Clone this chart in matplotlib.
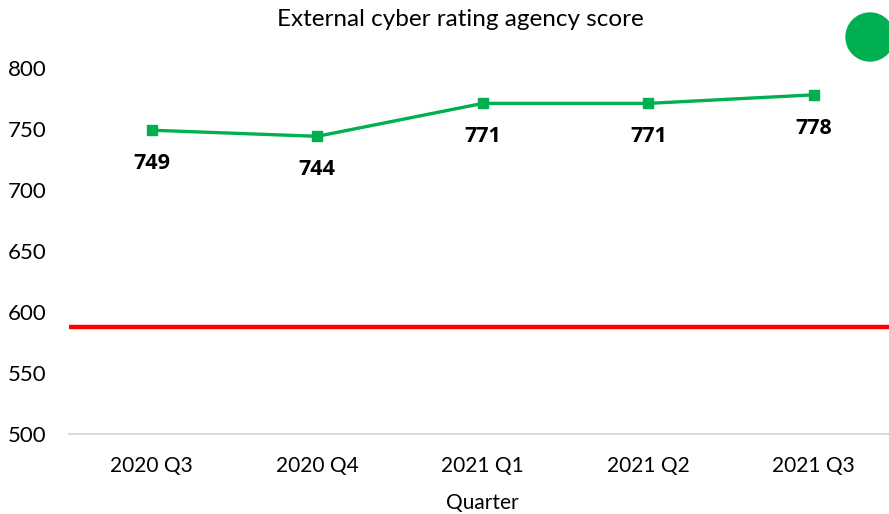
import matplotlib
matplotlib.use("Agg")
import matplotlib.pyplot as plt
from matplotlib.patches import Ellipse

plt.rcParams['font.family'] = ['Lato', 'DejaVu Sans']

quarters = ["2020 Q3", "2020 Q4", "2021 Q1", "2021 Q2", "2021 Q3"]
scores = [749, 744, 771, 771, 778]
threshold = 588
yticks = [500, 550, 600, 650, 700, 750, 800]

GREEN = "#00B050"
W, H = 889, 514
fig = plt.figure(figsize=(W / 100, H / 100), dpi=100)
left, right = 69 / W, 896.5 / W
bottom, top = (H - 434) / H, (H - 68) / H
ax = fig.add_axes([left, bottom, right - left, top - bottom])

x = list(range(len(quarters)))
ax.axhline(threshold, color="#FF0000", lw=3.2, zorder=2)
ax.plot(x, scores, color=GREEN, lw=2.4, marker="s", markersize=7.5, zorder=3, clip_on=False)
for xi, v in zip(x, scores):
    ax.annotate(f"{v}", (xi, v), xytext=(0, -16.5), textcoords="offset points",
                ha="center", va="top", fontsize=15.5, fontweight="bold", color="black",
                family=["Open Sans", "DejaVu Sans"])

ax.set_xlim(-0.5, len(quarters) - 0.5)
ax.set_ylim(500, 800)
ax.set_xticks(x)
ax.set_xticklabels(quarters, fontsize=15)
ax.set_yticks(yticks)
ax.tick_params(axis="y", labelsize=16, length=0, pad=16)
ax.tick_params(axis="x", length=0, pad=16)
for s in ["top", "right", "left"]:
    ax.spines[s].set_visible(False)
ax.spines["bottom"].set_color("#D9D9D9")
ax.spines["bottom"].set_linewidth(1.5)
ax.set_xlabel("Quarter", fontsize=15, labelpad=12)
fig.text(460 / W, 1 - 26 / H, "External cyber rating agency score", fontsize=17.5,
         ha="center", va="baseline")

fig.patches.append(Ellipse((870 / W, 1 - 37 / H), 48 / W, 48 / H, transform=fig.transFigure,
                           color=GREEN, zorder=5))

fig.savefig("out.png", dpi=100)
